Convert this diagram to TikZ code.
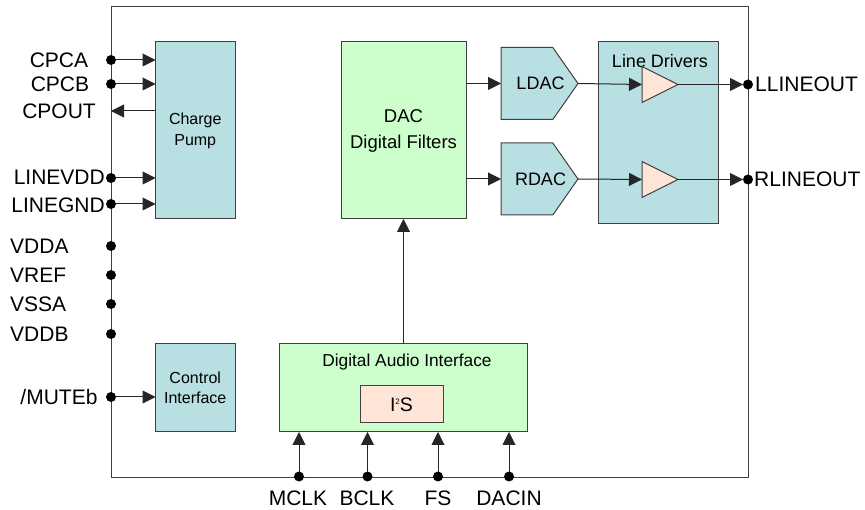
\documentclass[tikz,border=0pt]{standalone}
\usepackage{fontspec}
\setmainfont{Liberation Sans}
\usetikzlibrary{arrows.meta}
\usetikzlibrary{shapes.geometric}
\usetikzlibrary{shapes.symbols}

\definecolor{blockblue}{HTML}{B8DFE2}
\definecolor{blockgreen}{HTML}{CCFFCC}
\definecolor{blockpeach}{HTML}{FFE4D8}
\definecolor{edgegray}{HTML}{404040}

\tikzset{
    block/.style={draw=edgegray, line width=1pt, outer sep=0pt, inner sep=0pt, align=center, anchor=north west, font=\fontsize{16}{20}\selectfont},
    bluebox/.style={block, fill=blockblue},
    greenbox/.style={block, fill=blockgreen},
    dacshape/.style={draw=edgegray, line width=1pt, fill=blockblue, shape=signal, signal to=east, signal pointer angle=110, minimum width=77pt, minimum height=72pt, inner sep=0pt, outer sep=0pt, anchor=west},
    driver/.style={draw=edgegray, line width=1pt, fill=blockpeach, shape=isosceles triangle, isosceles triangle stretches, shape border rotate=0, minimum width=36pt, minimum height=36pt, inner sep=0pt, outer sep=0pt, anchor=lower side},
    pin/.style={circle, fill=black, minimum size=10pt, inner sep=0pt, outer sep=0pt},
    pinlabel/.style={inner sep=0pt, font=\fontsize{21}{24}\selectfont},
    caption/.style={inner sep=0pt, font=\fontsize{18}{22}\selectfont},
    sig/.style={-{Triangle[length=13pt,width=13pt]}, line width=1pt, color=black!85}
}

\begin{document}
\begin{tikzpicture}[x=1pt,y=-1pt]
    \useasboundingbox (0,0) rectangle (865,510);

    \node[draw=edgegray, line width=1pt, anchor=north west, minimum width=637pt, minimum height=470pt, outer sep=0pt] (chip) at (111,7) {};

    \node[bluebox, minimum width=79.5pt, minimum height=177pt] (pump) at (155.5,42) {Charge\\[1pt]Pump};
    \node[bluebox, minimum width=79.5pt, minimum height=88pt] (ctrl) at (155.5,344) {Control\\Interface};
    \node[greenbox, minimum width=125pt, minimum height=177pt, font=\fontsize{18.5}{26}\selectfont] (filters) at (341,42) {DAC\\Digital Filters};
    \node[greenbox, minimum width=248pt, minimum height=88pt] (dai) at (279,344) {};
    \node[inner sep=0pt, font=\fontsize{17.3}{20}\selectfont] (dailabel) at (407,362) {Digital Audio Interface};
    \node[block, fill=blockpeach, minimum width=83pt, minimum height=37pt, font=\fontsize{19.5}{22}\selectfont] (iis) at (360,386) {I{\fontsize{8}{8}\selectfont\raisebox{7pt}{2}}S};
    \node[dacshape] (ldac) at (501,83.5) {};
    \node[dacshape] (rdac) at (501,179) {};
    \node[caption] (ldaclabel) at (540.5,83.5) {LDAC};
    \node[caption] (rdaclabel) at (540.5,179) {RDAC};
    \node[bluebox, minimum width=120pt, minimum height=182pt] (lines) at (598,42) {};
    \node[caption] (lineslabel) at (660,61) {Line Drivers};
    \node[driver] (lamp) at (642,84.5) {};
    \node[driver] (ramp) at (642,179.5) {};

    \node[pin] (cpca) at (111,60) {};
    \node[pin] (cpcb) at (111,84) {};
    \coordinate (cpout) at (111,111);
    \node[pin] (linevdd) at (111,178) {};
    \node[pin] (linegnd) at (111,204) {};
    \node[pin] (vdda) at (111,246) {};
    \node[pin] (vref) at (111,275) {};
    \node[pin] (vssa) at (111,304) {};
    \node[pin] (vddb) at (111,334) {};
    \node[pin] (mute) at (111,397) {};
    \node[pin] (llineout) at (748,84.5) {};
    \node[pin] (rlineout) at (748,179.5) {};
    \node[pin] (mclk) at (299,476.5) {};
    \node[pin] (bclk) at (367.5,476.5) {};
    \node[pin] (fs) at (438,476.5) {};
    \node[pin] (dacin) at (509,476.5) {};

    \node[pinlabel] (cpcalabel) at (59,60) {CPCA};
    \node[pinlabel] (cpcblabel) at (60,84) {CPCB};
    \node[pinlabel] (cpoutlabel) at (59,111) {CPOUT};
    \node[pinlabel, anchor=east] (linevddlabel) at (105,177) {LINEVDD};
    \node[pinlabel, anchor=east] (linegndlabel) at (105,205) {LINEGND};
    \node[pinlabel, anchor=west] (vddalabel) at (10,246) {VDDA};
    \node[pinlabel, anchor=west] (vreflabel) at (10,275) {VREF};
    \node[pinlabel, anchor=west] (vssalabel) at (10,304) {VSSA};
    \node[pinlabel, anchor=west] (vddblabel) at (10,334) {VDDB};
    \node[pinlabel] (mutelabel) at (59,397) {/MUTEb};
    \node[pinlabel, anchor=west] (llabel) at (755,84) {LLINEOUT};
    \node[pinlabel, anchor=west] (rlabel) at (754,179) {RLINEOUT};
    \node[pinlabel] (mclklabel) at (298,498) {MCLK};
    \node[pinlabel] (bclklabel) at (367,498) {BCLK};
    \node[pinlabel] (fslabel) at (438,498) {FS};
    \node[pinlabel] (dacinlabel) at (509,498) {DACIN};

    \draw[sig] (cpca) -- (pump.west |- cpca);
    \draw[sig] (cpcb) -- (pump.west |- cpcb);
    \draw[sig] (pump.west |- cpout) -- (cpout);
    \draw[sig] (linevdd) -- (pump.west |- linevdd);
    \draw[sig] (linegnd) -- (pump.west |- linegnd);
    \draw[sig] (mute) -- (ctrl.west |- mute);
    \draw[sig] (filters.east |- ldac) -- (ldac.west);
    \draw[sig] (filters.east |- rdac) -- (rdac.west);
    \draw[sig] (ldac.east) -- (lamp.lower side);
    \draw[sig] (rdac.east) -- (ramp.lower side);
    \draw[sig] (lamp.apex) -- (llineout);
    \draw[sig] (ramp.apex) -- (rlineout);
    \draw[sig] (dai.north -| filters.south) -- (filters.south);
    \draw[sig] (mclk) -- (mclk |- dai.south);
    \draw[sig] (bclk) -- (bclk |- dai.south);
    \draw[sig] (fs) -- (fs |- dai.south);
    \draw[sig] (dacin) -- (dacin |- dai.south);
\end{tikzpicture}
\end{document}
